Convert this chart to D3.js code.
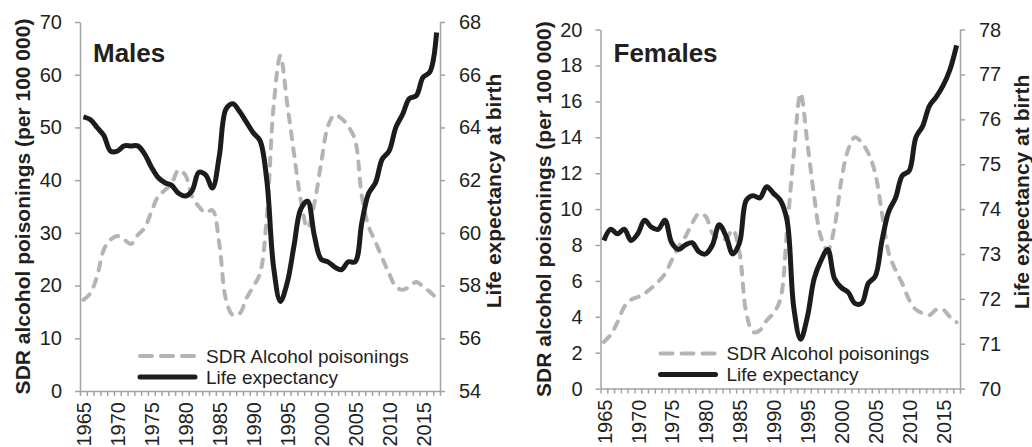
<!DOCTYPE html>
<html>
<head>
<meta charset="utf-8">
<script src="https://cdn.jsdelivr.net/npm/d3@7"></script>
<style>
  body { margin: 0; background: #fff; }
  svg { display: block; font-family: "Liberation Sans", Arial, sans-serif; }
  .axis .domain, .axis line { stroke: #a3a3a3; stroke-width: 1.5; }
  .axis text { fill: #231f20; font-size: 20px; }
</style>
</head>
<body>
<svg id="chart" width="1032" height="447"></svg>
<script>
var years = d3.range(1965, 2018);
var labelYears = [1965, 1970, 1975, 1980, 1985, 1990, 1995, 2000, 2005, 2010, 2015];

var maleSdr = [17.3, 18.5, 21.7, 26.8, 28.7, 29.4, 28.7, 27.9, 29.6, 30.9,
  34.0, 36.9, 38.1, 39.4, 41.9, 41.0, 36.9, 35.0, 33.8, 34.3,
  28.0, 17.3, 14.4, 14.7, 17.6, 19.8, 22.3, 33.0, 54.0, 63.6,
  54.6, 45.1, 36.2, 30.9, 35.6, 43.2, 50.2, 52.4, 51.7, 50.2,
  47.6, 36.9, 31.2, 28.3, 25.2, 22.3, 19.8, 19.2, 19.8, 20.7,
  19.8, 18.8, 17.6];
var maleLife = [64.4, 64.3, 64.0, 63.7, 63.1, 63.1, 63.3, 63.3, 63.3, 63.0,
  62.5, 62.1, 61.9, 61.8, 61.5, 61.4, 61.6, 62.3, 62.2, 61.7,
  62.9, 64.7, 64.9, 64.6, 64.2, 63.8, 63.5, 62.0, 58.7, 57.4,
  58.1, 59.5, 60.9, 61.2, 59.9, 59.0, 58.9, 58.7, 58.6, 58.9,
  58.9, 60.4, 61.5, 61.9, 62.8, 63.1, 64.0, 64.5, 65.1, 65.2,
  65.9, 66.1, 67.6];

var femaleSdr = [2.6, 3.0, 3.7, 4.55, 4.95, 5.1, 5.3, 5.6, 5.95, 6.4,
  7.15, 7.9, 8.45, 9.2, 9.75, 9.6, 8.65, 8.35, 8.35, 8.85,
  7.55, 4.2, 3.15, 3.25, 3.8, 4.2, 4.95, 8.85, 13.1, 16.45,
  13.7, 10.7, 8.45, 7.7, 9.0, 11.6, 13.3, 14.0, 13.7, 13.1,
  12.0, 9.75, 7.55, 6.6, 5.85, 4.95, 4.4, 4.2, 4.1, 4.4,
  4.4, 4.0, 3.7];
var femaleLife = [73.3, 73.55, 73.45, 73.55, 73.3, 73.45, 73.75, 73.6, 73.55, 73.75,
  73.25, 73.1, 73.2, 73.25, 73.05, 73.0, 73.2, 73.65, 73.4, 73.0,
  73.25, 74.2, 74.3, 74.25, 74.5, 74.35, 74.2, 73.75, 71.8, 71.1,
  71.6, 72.45, 72.85, 73.1, 72.45, 72.25, 72.15, 71.9, 71.9, 72.35,
  72.5, 73.3, 73.95, 74.25, 74.75, 74.85, 75.6, 75.85, 76.3, 76.5,
  76.75, 77.1, 77.65];

var maleSdrTicks = d3.range(0, 71, 10);
var maleLifeTicks = d3.range(54, 69, 2);
var femaleSdrTicks = d3.range(0, 21, 2);
var femaleLifeTicks = d3.range(70, 79, 1);

var legendNames = ["SDR Alcohol poisonings", "Life expectancy"];

var grey = "#b4b4b6";
var black = "#1c1c1c";
var svg = d3.select("#chart");

function drawPanel(p) {
  var g = svg.append("g");

  var x = d3.scaleLinear()
    .domain([1964.5, 2017.5])
    .range([p.left, p.right]);
  var y1 = d3.scaleLinear()
    .domain(d3.extent(p.sdrTicks))
    .range([p.bottom, p.top]);
  var y2 = d3.scaleLinear()
    .domain(d3.extent(p.lifeTicks))
    .range([p.bottom, p.top]);

  // y axes
  g.append("g")
    .attr("class", "axis")
    .attr("transform", `translate(${p.left},0)`)
    .call(d3.axisLeft(y1).tickValues(p.sdrTicks).tickSize(5).tickSizeOuter(0).tickPadding(13));

  g.append("g")
    .attr("class", "axis")
    .attr("transform", `translate(${p.right},0)`)
    .call(d3.axisRight(y2).tickValues(p.lifeTicks).tickSize(5).tickSizeOuter(0).tickPadding(14));

  // x axis: ticks between categories, labels at every fifth year
  g.append("g")
    .attr("class", "axis")
    .attr("transform", `translate(0,${p.bottom})`)
    .call(d3.axisBottom(x).tickValues(d3.range(1964.5, 2018, 1)).tickSize(5).tickSizeOuter(0).tickFormat(""));

  g.append("g")
    .attr("class", "axis")
    .attr("transform", `translate(0,${p.bottom})`)
    .call(d3.axisBottom(x).tickValues(labelYears).tickSize(0).tickFormat(d3.format("d")))
    .call(a => a.select(".domain").remove())
    .selectAll("text")
      .attr("transform", "rotate(-90)")
      .attr("x", -11)
      .attr("y", 0)
      .attr("dy", "0.36em")
      .style("text-anchor", "end");

  // axis titles
  g.append("text")
    .attr("transform", `translate(${p.left - 50},${(p.top + p.bottom) / 2}) rotate(-90)`)
    .attr("text-anchor", "middle")
    .style("font-size", "21px")
    .style("font-weight", "bold")
    .attr("fill", "#231f20")
    .text("SDR alcohol poisonings (per 100 000)");

  g.append("text")
    .attr("transform", `translate(${p.right + p.titleGap},${p.lifeTitleY}) rotate(-90)`)
    .attr("text-anchor", "middle")
    .style("font-size", "21px")
    .style("font-weight", "bold")
    .attr("fill", "#231f20")
    .text("Life expectancy at birth");

  g.append("text")
    .attr("x", p.left + 13)
    .attr("y", 62)
    .style("font-size", "26px")
    .style("font-weight", "bold")
    .attr("fill", "#231f20")
    .text(p.title);

  var sdrLine = d3.line()
    .curve(d3.curveCatmullRom)
    .x((d, i) => x(years[i]))
    .y(d => y1(d));
  var lifeLine = d3.line()
    .curve(d3.curveCatmullRom)
    .x((d, i) => x(years[i]))
    .y(d => y2(d));

  g.append("path")
    .datum(p.sdr)
    .attr("fill", "none")
    .attr("stroke", grey)
    .attr("stroke-width", 4)
    .attr("stroke-linecap", "round")
    .attr("stroke-dasharray", "8,9")
    .attr("d", sdrLine);

  g.append("path")
    .datum(p.life)
    .attr("fill", "none")
    .attr("stroke", black)
    .attr("stroke-width", 5)
    .attr("stroke-linejoin", "round")
    .attr("d", lifeLine);

  // legend
  var lg = g.append("g")
    .attr("transform", `translate(${p.left + 58},${p.bottom - 35})`);
  lg.selectAll("line")
    .data(legendNames)
    .enter()
    .append("line")
    .attr("x1", 2)
    .attr("x2", 57)
    .attr("y1", (d, i) => i * 21)
    .attr("y2", (d, i) => i * 21)
    .attr("stroke", (d, i) => i == 0 ? grey : black)
    .attr("stroke-width", (d, i) => i == 0 ? 4 : 5)
    .attr("stroke-linecap", "round")
    .attr("stroke-dasharray", (d, i) => i == 0 ? "12,9" : null);
  lg.selectAll("text")
    .data(legendNames)
    .enter()
    .append("text")
    .attr("x", 68)
    .attr("y", (d, i) => i * 21)
    .attr("dy", "0.35em")
    .style("font-size", "19px")
    .attr("fill", "#231f20")
    .text(d => d);
}

drawPanel({
  title: "Males", left: 80, right: 440, top: 22, bottom: 391,
  sdr: maleSdr, life: maleLife, sdrTicks: maleSdrTicks, lifeTicks: maleLifeTicks,
  titleGap: 61, lifeTitleY: 191
});
drawPanel({
  title: "Females", left: 600.5, right: 960, top: 29.6, bottom: 388.6,
  sdr: femaleSdr, life: femaleLife, sdrTicks: femaleSdrTicks, lifeTicks: femaleLifeTicks,
  titleGap: 69, lifeTitleY: 192
});
</script>
</body>
</html>
